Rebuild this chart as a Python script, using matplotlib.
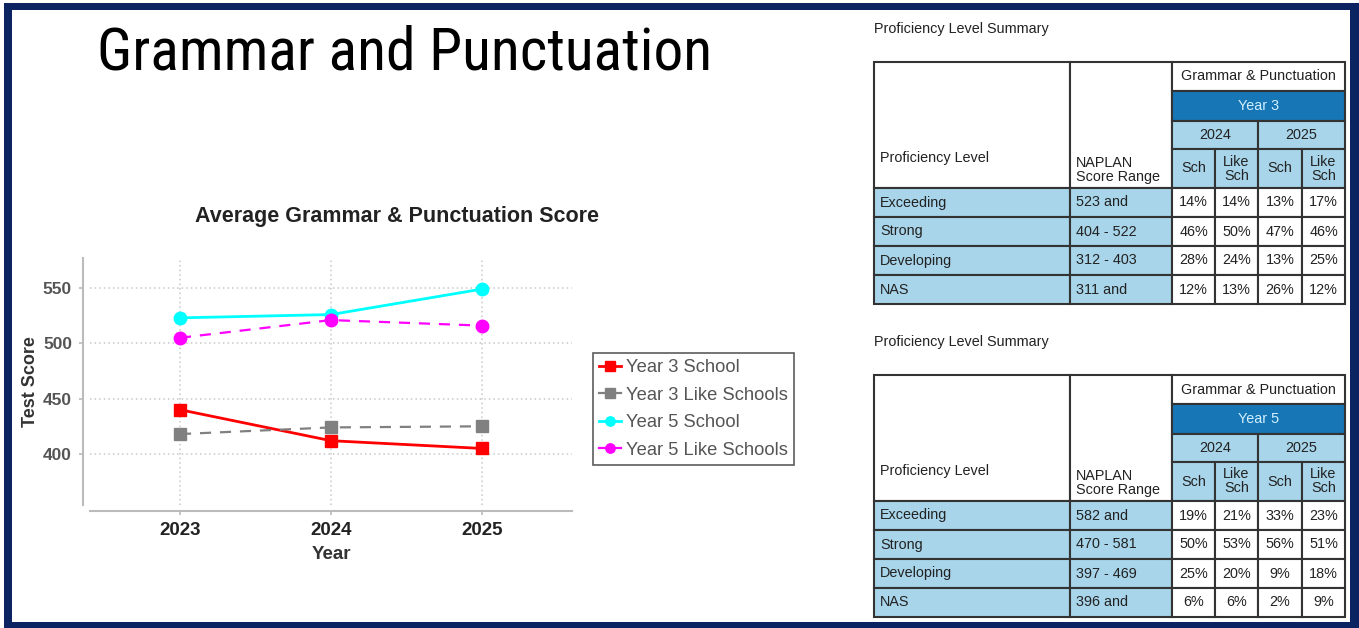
import matplotlib.pyplot as plt
from matplotlib.patches import Rectangle
import numpy as np

plt.rcParams['font.family'] = ['Liberation Sans', 'DejaVu Sans']

# chart data
years = [2023, 2024, 2025]
y3_school = [440, 412, 405]
y3_like = [418, 424, 425]
y5_school = [523, 526, 549]
y5_like = [505, 521, 516]

# proficiency tables
levels = ["Exceeding", "Strong", "Developing", "NAS"]
sub_years = ["2024", "2025"]
sub_cols = ["Sch", "Like\nSch", "Sch", "Like\nSch"]
y3_ranges = ["523 and", "404 - 522", "312 - 403", "311 and"]
y3_pct = [[14, 14, 13, 17],
          [46, 50, 47, 46],
          [28, 24, 13, 25],
          [12, 13, 26, 12]]
y5_ranges = ["582 and", "470 - 581", "397 - 469", "396 and"]
y5_pct = [[19, 21, 33, 23],
          [50, 53, 56, 51],
          [25, 20, 9, 18],
          [6, 6, 2, 9]]

W, H = 1359, 628
fig = plt.figure(figsize=(W / 100, H / 100), dpi=100)

# background layer in pixel coordinates
bg = fig.add_axes([0, 0, 1, 1])
bg.set_xlim(0, W)
bg.set_ylim(H, 0)
bg.axis('off')
navy = '#0b2361'
bg.add_patch(Rectangle((4, 3), W - 4, 7, color=navy, lw=0))
bg.add_patch(Rectangle((4, 3), 8, H - 3, color=navy, lw=0))
bg.add_patch(Rectangle((1350, 3), 9, H - 3, color=navy, lw=0))
bg.add_patch(Rectangle((4, 622), W - 4, 6, color=navy, lw=0))

bg.text(97, 69, "Grammar and Punctuation",
        family=['Liberation Sans Narrow', 'Roboto Condensed', 'Roboto'],
        fontsize=42.8, va='baseline', ha='left', color='black')

dark_blue = '#1676b6'
light_blue = '#a8d5ea'
edge = '#333333'
txt = '#222222'
fs = 10.4
col_x = [874, 1070, 1172, 1215, 1258, 1302, 1345]


def cell(x0, x1, y0, y1, fc):
    bg.add_patch(Rectangle((x0, y0), x1 - x0, y1 - y0, facecolor=fc,
                           edgecolor=edge, lw=1.5))


def draw_table(top, year_label, ranges, pct):
    rows = [top, top + 29, top + 58.5, top + 87, top + 126]
    for i in range(4):
        rows.append(rows[-1] + 29)
    bg.text(col_x[0], top - 33, "Proficiency Level Summary", fontsize=fs,
            va='center', ha='left', color=txt)
    # header block
    cell(col_x[0], col_x[1], rows[0], rows[4], 'white')
    cell(col_x[1], col_x[2], rows[0], rows[4], 'white')
    bg.text(col_x[0] + 6, top + 96, "Proficiency Level", fontsize=fs,
            va='center', ha='left', color=txt)
    bg.text(col_x[1] + 6, top + 108, "NAPLAN\nScore Range", fontsize=fs,
            va='center', ha='left', color=txt, linespacing=1.05)
    cell(col_x[2], col_x[6], rows[0], rows[1], 'white')
    bg.text((col_x[2] + col_x[6]) / 2, (rows[0] + rows[1]) / 2,
            "Grammar & Punctuation", fontsize=fs, ha='center', va='center',
            color=txt)
    cell(col_x[2], col_x[6], rows[1], rows[2], dark_blue)
    bg.text((col_x[2] + col_x[6]) / 2, (rows[1] + rows[2]) / 2, year_label,
            fontsize=fs, ha='center', va='center', color='#d2f0ff')
    for k, yl in enumerate(sub_years):
        x0, x1 = col_x[2 + 2 * k], col_x[4 + 2 * k]
        cell(x0, x1, rows[2], rows[3], light_blue)
        bg.text((x0 + x1) / 2, (rows[2] + rows[3]) / 2, yl, fontsize=fs,
                ha='center', va='center', color=txt)
    for k, sc in enumerate(sub_cols):
        x0, x1 = col_x[2 + k], col_x[3 + k]
        cell(x0, x1, rows[3], rows[4], light_blue)
        bg.text((x0 + x1) / 2, (rows[3] + rows[4]) / 2, sc, fontsize=fs,
                ha='center', va='center', color=txt, linespacing=1.0)
    # body
    for r, lvl in enumerate(levels):
        y0, y1 = rows[4 + r], rows[5 + r]
        ym = (y0 + y1) / 2
        cell(col_x[0], col_x[1], y0, y1, light_blue)
        bg.text(col_x[0] + 6, ym, lvl, fontsize=fs, va='center', ha='left',
                color=txt)
        cell(col_x[1], col_x[2], y0, y1, light_blue)
        bg.text(col_x[1] + 6, ym, ranges[r], fontsize=fs, va='center',
                ha='left', color=txt)
        for c in range(4):
            x0, x1 = col_x[2 + c], col_x[3 + c]
            cell(x0, x1, y0, y1, 'white')
            bg.text((x0 + x1) / 2, ym, f"{pct[r][c]}%", fontsize=fs,
                    ha='center', va='center', color=txt)


draw_table(62, "Year 3", y3_ranges, y3_pct)
draw_table(375, "Year 5", y5_ranges, y5_pct)

# line chart
ax = fig.add_axes([90 / W, 1 - 505 / H, (572 - 90) / W, (505 - 258) / H])
ax.plot(years, y3_school, color='#ff0000', lw=2, marker='s', ms=9,
        label='Year 3 School')
ax.plot(years, y3_like, color='#808080', lw=1.6, ls=(0, (5, 4)), marker='s',
        ms=9, label='Year 3 Like Schools')
ax.plot(years, y5_school, color='#00ffff', lw=2, marker='o', ms=9,
        label='Year 5 School')
ax.plot(years, y5_like, color='#ff00ff', lw=1.6, ls=(0, (5, 4)), marker='o',
        ms=9, label='Year 5 Like Schools')

ax.set_xlim(2022.404, 2025.596)
ax.set_ylim(353.9, 577.1)
ax.set_xticks(years)
ax.set_yticks([400, 450, 500, 550])
ax.grid(True, color='#c8c8c8', ls=(0, (1, 2)), lw=1.1)
ax.set_axisbelow(True)
for s in ['top', 'right']:
    ax.spines[s].set_visible(False)
ax.spines['left'].set_position(('outward', 5))
ax.spines['bottom'].set_position(('outward', 4))
for s in ['left', 'bottom']:
    ax.spines[s].set_color('#bbbbbb')
    ax.spines[s].set_linewidth(1.5)
ax.tick_params(length=3, width=1.2, color='#bbbbbb', pad=5)
for lab in ax.get_xticklabels():
    lab.set_fontsize(13.5)
    lab.set_fontweight('bold')
    lab.set_color('#222222')
for lab in ax.get_yticklabels():
    lab.set_fontsize(12.5)
    lab.set_fontweight('bold')
    lab.set_color('#555555')
ax.set_xlabel("Year", fontsize=13.5, fontweight='bold', color='#333333',
              labelpad=5)
ax.set_ylabel("Test Score", fontsize=13, fontweight='bold', color='#333333',
              labelpad=3)
ax.set_title("Average Grammar & Punctuation Score", fontsize=15.5,
             fontweight='bold', color='#222222', pad=26, x=0.637)

leg = ax.legend(loc='upper left', bbox_to_anchor=(593 / W, 1 - 353 / H),
                bbox_transform=fig.transFigure, fontsize=13.2,
                frameon=True, fancybox=False, edgecolor='#333333',
                borderaxespad=0, handlelength=1.2, handletextpad=0.25,
                labelspacing=0.57, borderpad=0.35, markerscale=0.75)
leg.get_frame().set_linewidth(1.2)
for t in leg.get_texts():
    t.set_color('#555555')
for h in leg.get_lines():
    h.set_linestyle('-')

fig.savefig('out.png', dpi=100)
